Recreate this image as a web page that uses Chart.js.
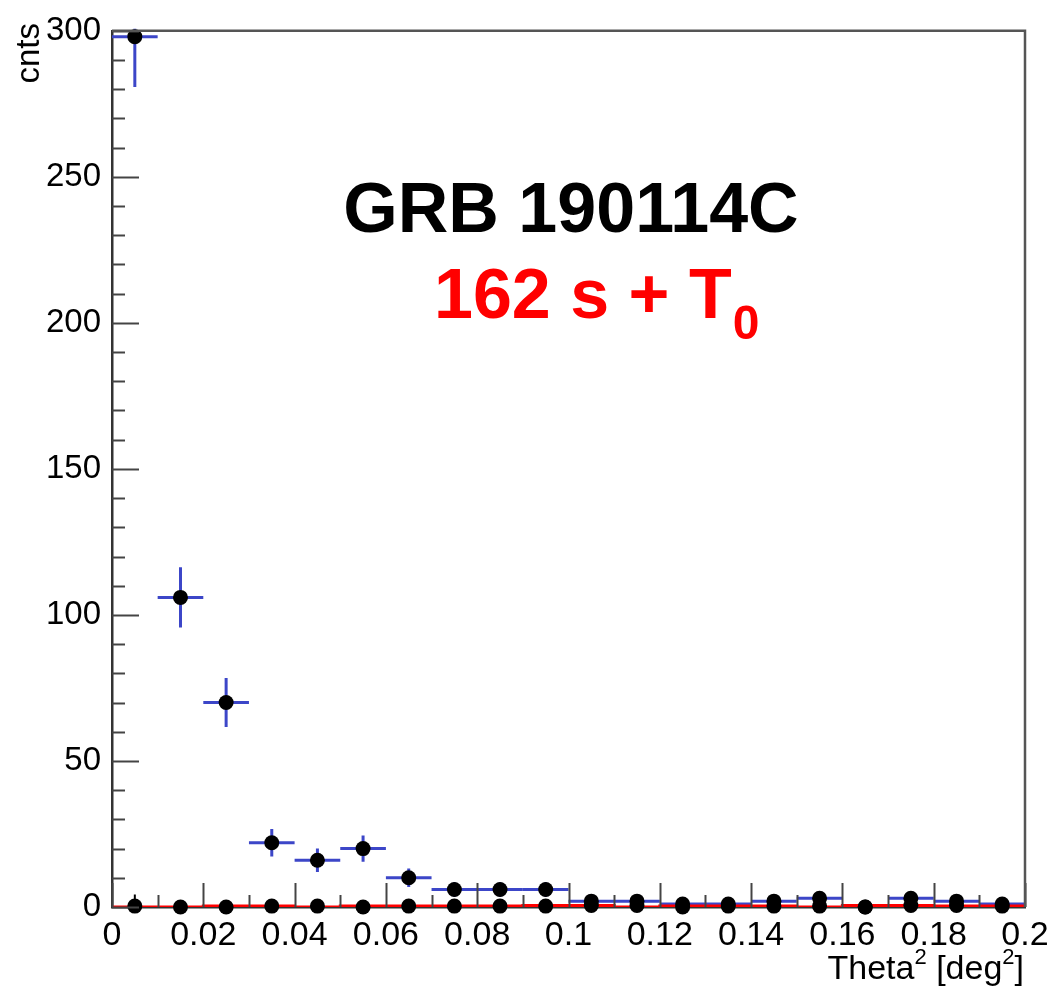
<!DOCTYPE html>
<html>
<head>
<meta charset="utf-8">
<script src="https://cdn.jsdelivr.net/npm/chart.js@4/dist/chart.umd.min.js"></script>
<style>
  html, body { margin: 0; padding: 0; background: #fff; }
  canvas { display: block; }
</style>
</head>
<body>
<canvas id="theta2" width="1058" height="991"></canvas>
<script>
// bin edges of the theta^2 histogram, 20 bins of 0.01 deg^2
const binLow = [0, 0.01, 0.02, 0.03, 0.04, 0.05, 0.06, 0.07, 0.08, 0.09,
                0.1, 0.11, 0.12, 0.13, 0.14, 0.15, 0.16, 0.17, 0.18, 0.19];
const binWidth = 0.01;
// on-source counts (blue error bars)
const onCounts = [298, 106, 70, 22, 16, 20, 10, 6, 6, 6,
                  2, 2, 1, 1, 2, 3, 0, 3, 2, 1];
// background counts (red line), nearly zero
const offCounts = [0.3, 0, 0, 0.3, 0.3, 0, 0.3, 0.3, 0.3, 0.3,
                   0.5, 0.5, 0, 0.3, 0.3, 0.3, 0, 0.5, 0.5, 0.3];
const offErrors = [4, 0, 0, 1.5, 1.5, 2, 1, 1, 1, 1,
                   1, 1, 0, 1, 1, 1, 0, 1, 1, 1];
const yTicks = [0, 50, 100, 150, 200, 250, 300];
const xTicks = [0, 0.02, 0.04, 0.06, 0.08, 0.1, 0.12, 0.14, 0.16, 0.18, 0.2];

const FONT = '"Liberation Sans", Arial, Helvetica, sans-serif';
const BLUE = '#3c46c8';

// helper: centre of each bin
function binCentres() {
    return binLow.map(lo => lo + binWidth / 2);
}

const onPoints = binCentres().map((x, i) => ({ x: x, y: onCounts[i] }));
const offPoints = binCentres().map((x, i) => ({ x: x, y: offCounts[i] }));
// step line: left edge of each bin plus the last right edge
const offStep = binLow.map((lo, i) => ({ x: lo, y: offCounts[i] }));
offStep.push({ x: 0.2, y: offCounts[offCounts.length - 1] });

// error bars, inward ticks, frame and the text labels
const rootStyle = {
    id: 'rootStyle',
    beforeDatasetsDraw(chart) {
        const ctx = chart.ctx;
        const xs = chart.scales.x, ys = chart.scales.y;
        const area = chart.chartArea;
        ctx.save();
        ctx.beginPath();
        ctx.rect(area.left, area.top - 2, area.right - area.left, area.bottom - area.top + 4);
        ctx.clip();
        // on-source error bars
        ctx.strokeStyle = BLUE;
        ctx.lineWidth = 3;
        for (let i = 0; i < onCounts.length; i++) {
            const v = onCounts[i];
            if (v <= 0) continue;
            const err = Math.sqrt(v);
            const py = ys.getPixelForValue(v);
            ctx.beginPath();
            ctx.moveTo(xs.getPixelForValue(binLow[i]), py);
            ctx.lineTo(xs.getPixelForValue(binLow[i] + binWidth), py);
            const px = xs.getPixelForValue(binLow[i] + binWidth / 2);
            ctx.moveTo(px, ys.getPixelForValue(v - err));
            ctx.lineTo(px, ys.getPixelForValue(v + err));
            ctx.stroke();
        }
        // background error bars
        ctx.strokeStyle = '#000';
        ctx.lineWidth = 2;
        for (let i = 0; i < offCounts.length; i++) {
            if (offErrors[i] <= 0) continue;
            const px = xs.getPixelForValue(binLow[i] + binWidth / 2);
            ctx.beginPath();
            ctx.moveTo(px, ys.getPixelForValue(offCounts[i]));
            ctx.lineTo(px, ys.getPixelForValue(offCounts[i] + offErrors[i]));
            ctx.stroke();
        }
        ctx.restore();
    },
    afterDraw(chart) {
        const ctx = chart.ctx;
        const xs = chart.scales.x, ys = chart.scales.y;
        const area = chart.chartArea;
        ctx.save();
        // ticks pointing into the frame
        ctx.strokeStyle = '#444';
        ctx.lineWidth = 2;
        for (let v = 0; v <= 300; v += 10) {
            const py = Math.round(ys.getPixelForValue(v)) + 0.5;
            const len = v % 50 === 0 ? 27 : 13;
            ctx.beginPath();
            ctx.moveTo(area.left, py);
            ctx.lineTo(area.left + len, py);
            ctx.stroke();
        }
        for (let k = 0; k <= 20; k++) {
            const px = Math.round(xs.getPixelForValue(k * 0.01)) + 0.5;
            const len = k % 2 === 0 ? 24 : 12;
            ctx.beginPath();
            ctx.moveTo(px, area.bottom);
            ctx.lineTo(px, area.bottom - len);
            ctx.stroke();
        }
        // frame on top and right
        ctx.strokeStyle = '#555';
        ctx.lineWidth = 2.5;
        ctx.beginPath();
        ctx.moveTo(area.left, area.top);
        ctx.lineTo(area.right, area.top);
        ctx.lineTo(area.right, area.bottom);
        ctx.stroke();

        // axis titles
        ctx.fillStyle = '#000';
        ctx.font = '33px ' + FONT;
        ctx.textBaseline = 'alphabetic';
        ctx.save();
        ctx.translate(39, 23);
        ctx.rotate(-Math.PI / 2);
        ctx.textAlign = 'right';
        ctx.fillText('cnts', 0, 0);
        ctx.restore();

        // Theta^2 [deg^2], right aligned to the frame
        const parts = [['Theta', false], ['2', true], [' [deg', false], ['2', true], [']', false]];
        const big = '34px ' + FONT, small = '22px ' + FONT;
        let total = 0;
        parts.forEach(p => { ctx.font = p[1] ? small : big; total += ctx.measureText(p[0]).width; });
        let x = area.right - 1 - total;
        const base = 979;
        ctx.textAlign = 'left';
        parts.forEach(p => {
            ctx.font = p[1] ? small : big;
            ctx.fillText(p[0], x, p[1] ? base - 15 : base);
            x += ctx.measureText(p[0]).width;
        });

        // labels inside the plot
        ctx.font = 'bold 70px ' + FONT;
        ctx.textAlign = 'center';
        ctx.fillText('GRB 190114C', 571, 232);
        ctx.fillStyle = '#ff0000';
        ctx.textAlign = 'left';
        const main = '162 s + T';
        ctx.fillText(main, 434, 318);
        const w = ctx.measureText(main).width;
        ctx.font = 'bold 48px ' + FONT;
        ctx.fillText('0', 434 + w + 1, 339);
        ctx.restore();
    }
};

new Chart(document.getElementById('theta2'), {
    type: 'scatter',
    data: {
        datasets: [
            {
                label: 'on',
                data: onPoints,
                pointRadius: 7.5,
                pointBackgroundColor: '#000',
                pointBorderWidth: 0,
                showLine: false,
                clip: false,
                order: 1
            },
            {
                label: 'off',
                data: offPoints,
                pointRadius: 7.5,
                pointBackgroundColor: '#000',
                pointBorderWidth: 0,
                showLine: false,
                clip: false,
                order: 2
            },
            {
                label: 'off hist',
                type: 'line',
                data: offStep,
                stepped: 'after',
                borderColor: '#ff0000',
                borderWidth: 3,
                pointRadius: 0,
                fill: false,
                order: 3
            }
        ]
    },
    options: {
        responsive: false,
        maintainAspectRatio: false,
        animation: false,
        devicePixelRatio: 1,
        layout: {
            padding: { top: 25, right: 33, left: 0, bottom: 0 }
        },
        plugins: {
            legend: { display: false },
            tooltip: { enabled: false }
        },
        scales: {
            x: {
                type: 'linear',
                min: 0,
                max: 0.2,
                afterFit(scale) { scale.height = 84; },
                afterBuildTicks(scale) { scale.ticks = xTicks.map(v => ({ value: v })); },
                grid: { display: false, drawTicks: false },
                border: { display: true, color: '#333', width: 2.5 },
                ticks: {
                    autoSkip: false,
                    maxRotation: 0,
                    padding: 8,
                    color: '#000',
                    font: { family: FONT, size: 34 },
                    callback: v => String(Number(v.toFixed(2)))
                }
            },
            y: {
                type: 'linear',
                min: 0,
                max: 300,
                afterFit(scale) { scale.width = 112; },
                afterBuildTicks(scale) { scale.ticks = yTicks.map(v => ({ value: v })); },
                grid: { display: false, drawTicks: false },
                border: { display: true, color: '#333', width: 2.5 },
                ticks: {
                    padding: 11,
                    color: '#000',
                    font: { family: FONT, size: 33 }
                }
            }
        }
    },
    plugins: [rootStyle]
});
</script>
</body>
</html>
